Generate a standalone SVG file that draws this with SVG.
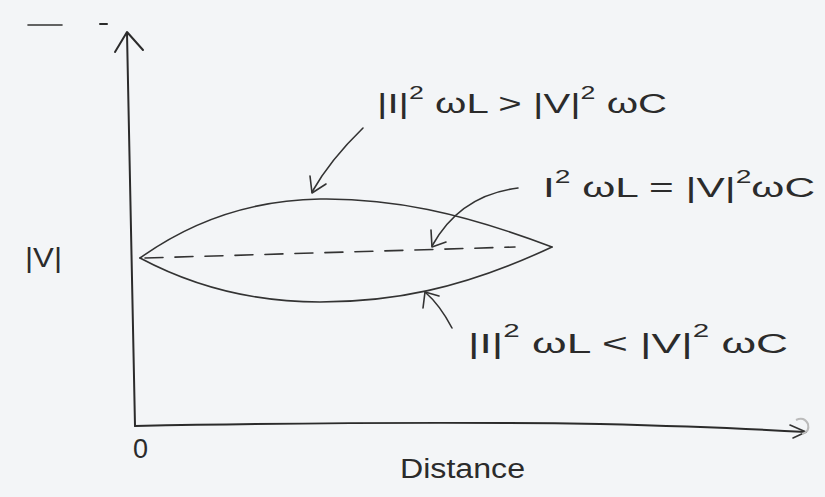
<svg xmlns="http://www.w3.org/2000/svg" width="825" height="497" viewBox="0 0 825 497">
<style>
.ink{fill:none;stroke:#2b2b2b;stroke-width:2;stroke-linecap:round;stroke-linejoin:round}
.thin{fill:none;stroke:#333;stroke-width:1.6;stroke-linecap:round;stroke-linejoin:round}
.t{font-family:"Liberation Sans",Arial,sans-serif;fill:#2b2b2b;font-size:27px}
.sup{font-size:18px}
</style>
<rect width="825" height="497" fill="#f3f5f7"/>
<g id="marks">
<path class="thin" d="M28 25 L62 25"/>
<path class="ink" d="M100 24 L107 24" stroke-width="3"/>
</g>
<g id="axes">
<path class="ink" d="M127 33 Q131 230 135 426"/>
<path class="ink" d="M115 52 L127 32 L143 50"/>
<path class="ink" d="M135 426 Q400 421 600 424 Q720 427 806 432"/>
<path class="thin" d="M790 425 L806 432 L793 438"/>
<path d="M796 420 q8 -4 12 4 q2 8 -6 10" fill="none" stroke="#bbb" stroke-width="2"/>
</g>
<g id="curves">
<path class="thin" d="M140 258 C200 215 260 200 320 199 C390 198 460 212 552 247"/>
<path class="thin" d="M140 258 C200 290 260 302 320 302 C390 302 460 290 552 247"/>
<path class="thin" d="M145 258 L515 247" stroke-dasharray="18 12"/>
</g>
<g id="connectors">
<path class="thin" d="M363 128 Q330 160 312 192"/>
<path class="thin" d="M310 176 L312 193 L326 184"/>
<path class="thin" d="M518 188 Q460 195 432 246"/>
<path class="thin" d="M431 230 L432 247 L446 242"/>
<path class="thin" d="M452 328 Q440 305 425 292"/>
<path class="thin" d="M423 308 L425 292 L439 296"/>
</g>
<g id="label-v">
<text class="t" x="25" y="267" textLength="37" lengthAdjust="spacingAndGlyphs">|V|</text>
</g>
<g id="label-top">
<text class="t" x="377" y="113" textLength="290" lengthAdjust="spacingAndGlyphs">|I|<tspan class="sup" dy="-14">2</tspan><tspan dy="14"> ωL &gt; |V|</tspan><tspan class="sup" dy="-14">2</tspan><tspan dy="14"> ωC</tspan></text>
</g>
<g id="label-mid">
<text class="t" x="543" y="197" textLength="272" lengthAdjust="spacingAndGlyphs">I<tspan class="sup" dy="-14">2</tspan><tspan dy="14"> ωL = |V|</tspan><tspan class="sup" dy="-14">2</tspan><tspan dy="14">ωC</tspan></text>
</g>
<g id="label-bottom">
<text class="t" x="468" y="353" textLength="320" lengthAdjust="spacingAndGlyphs">|I|<tspan class="sup" dy="-16">2</tspan><tspan dy="16"> ωL &lt; |V|</tspan><tspan class="sup" dy="-16">2</tspan><tspan dy="16"> ωC</tspan></text>
</g>
<g id="label-zero">
<text class="t" x="133" y="458" font-size="20">0</text>
</g>
<g id="label-distance">
<text class="t" x="400" y="478" textLength="125" lengthAdjust="spacingAndGlyphs">Distance</text>
</g>
</svg>
